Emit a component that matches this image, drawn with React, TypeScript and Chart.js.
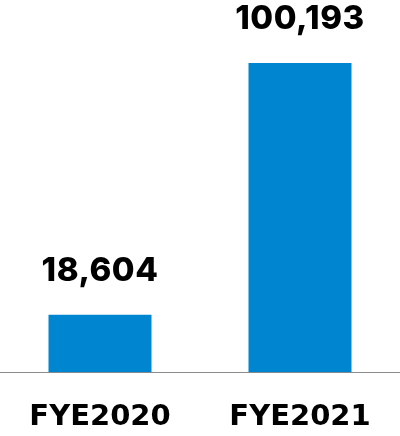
import React, { useEffect, useRef } from "react";
import { Chart, registerables } from "chart.js";

Chart.register(...registerables);

const categories = ["FYE2020", "FYE2021"];
const values = [18604, 100193];
const yMax = 120000;

const valueLabels = {
  id: "valueLabels",
  afterDatasetsDraw(chart: any) {
    const ctx = chart.ctx;
    const meta = chart.getDatasetMeta(0);
    ctx.save();
    ctx.font = "800 33px Inter";
    try { (ctx as any).letterSpacing = "0.5px"; } catch (e) {}
    ctx.fillStyle = "#000000";
    ctx.textAlign = "center";
    ctx.textBaseline = "alphabetic";
    meta.data.forEach((bar: any, i: number) => {
      const v = values[i];
      ctx.fillText(v.toLocaleString("en-US"), bar.x, bar.y - 34);
    });
    ctx.restore();
  },
};

export default function App() {
  const ref = useRef<HTMLCanvasElement>(null);
  useEffect(() => {
    if (!ref.current) return;
    const chart = new Chart(ref.current, {
      type: "bar",
      data: {
        labels: categories,
        datasets: [
          {
            data: values,
            backgroundColor: "#0086D0",
            categoryPercentage: 1,
            barPercentage: 0.515,
          },
        ],
      },
      options: {
        responsive: false,
        animation: false,
        layout: { padding: { top: 2, left: 0, right: 0, bottom: -19 } },
        plugins: { legend: { display: false }, tooltip: { enabled: false } },
        scales: {
          x: {
            grid: { display: false },
            border: { display: true, color: "#8c8c8c", width: 1 },
            ticks: {
              color: "#000000",
              font: { family: "DejaVu Sans", weight: "bold", size: 29 },
              padding: 20,
              maxRotation: 0,
            },
          },
          y: {
            display: false,
            min: 0,
            max: yMax,
          },
        },
      },
      plugins: [valueLabels],
    });
    return () => chart.destroy();
  }, []);
  return (
    <div style={{ position: "fixed", left: 0, top: 0, width: 400, height: 436, background: "#fff" }}>
      <canvas ref={ref} width={400} height={436} />
    </div>
  );
}
